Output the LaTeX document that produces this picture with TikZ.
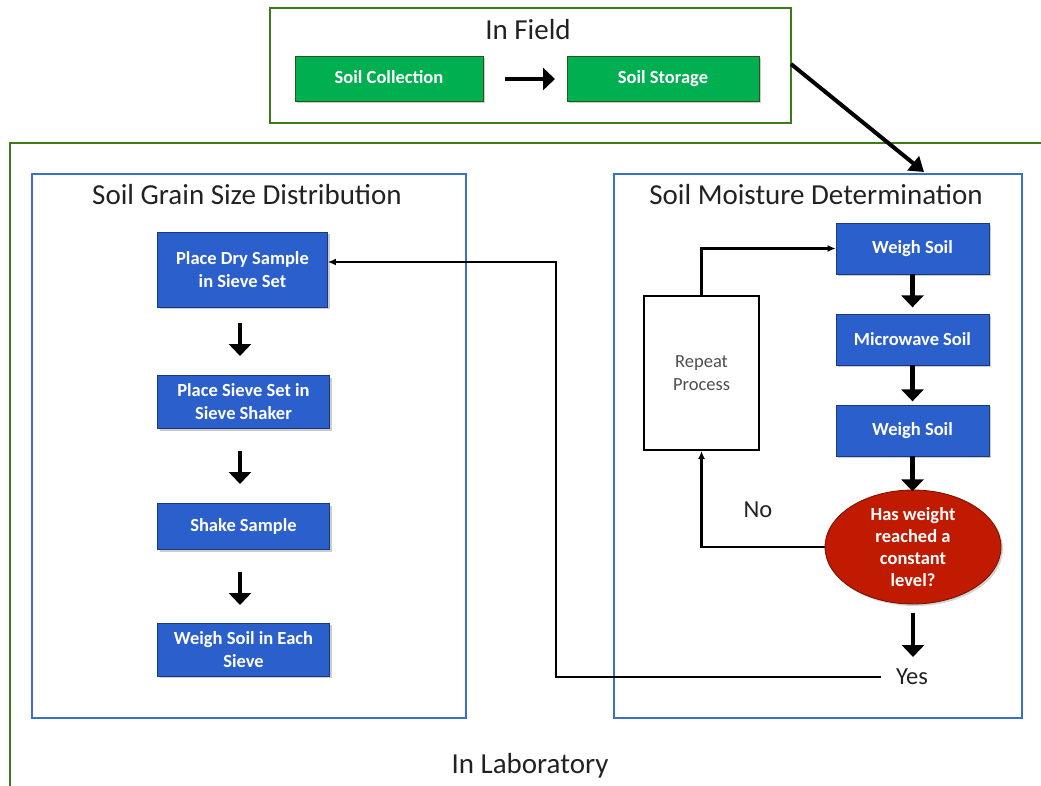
\documentclass[tikz,border=0pt]{standalone}
\usepackage{fontspec}
\setmainfont{Carlito}
\usetikzlibrary{shadows,arrows.meta,shapes.geometric}
\definecolor{fgreen}{HTML}{3C7A1A}
\definecolor{bgreen}{HTML}{00B050}
\definecolor{bblue}{HTML}{2B5FCB}
\definecolor{lblue}{HTML}{3A6FD0}
\definecolor{dred}{HTML}{C01A00}
\definecolor{tgray}{HTML}{222222}
\tikzset{
  greenbox/.style={draw=fgreen!70!black, line width=0.7pt, fill=bgreen, text=white, font=\fontsize{18.5}{23}\selectfont\bfseries, text height=13pt, text depth=3pt, drop shadow={shadow xshift=2pt, shadow yshift=-2pt, opacity=0.4}, inner sep=0pt},
  bluebox/.style={draw=bblue!60!black, line width=0.7pt, fill=bblue, text=white, font=\fontsize{18.5}{23}\selectfont\bfseries, align=center, drop shadow={shadow xshift=2pt, shadow yshift=-2pt, opacity=0.4}, inner sep=0pt},
  frame/.style={draw=fgreen, line width=2.8pt},
  bframe/.style={draw=lblue, line width=2.8pt},
  title/.style={font=\fontsize{29}{31}\selectfont, text=tgray},
  lbl/.style={font=\fontsize{24.5}{26}\selectfont, text=tgray},
  thickarr/.style={line width=4.5pt, -{Triangle[length=12pt,width=22pt]}},
  thinarr/.style={line width=2.2pt, -{Latex[length=8pt,width=7pt]}},
}
\begin{document}
\begin{tikzpicture}[x=1pt,y=-1pt]
\useasboundingbox (0,0) rectangle (1041,786);
% In Field
\draw[frame] (270,8) rectangle (791,123);
\node[title] (tfield) at (528,30) {In Field};
\node[greenbox, minimum width=188pt, minimum height=45pt] (coll) at (389,79) {Soil Collection};
\node[greenbox, minimum width=192pt, minimum height=45pt] (stor) at (663,79) {Soil Storage};
\draw[thickarr] (505,79) -- (555,79);
% In Laboratory
\draw[frame] (10,786) -- (10,143) -- (1041,143);
\node[title] (tlab) at (530,766) {In Laboratory};
% left box
\draw[bframe] (32,174) rectangle (466,718);
\node[title] (tgrain) at (247,195) {Soil Grain Size Distribution};
\node[bluebox, minimum width=170pt, minimum height=75pt] (p1) at (242.5,269.5) {Place Dry Sample\\in Sieve Set};
\node[bluebox, minimum width=172pt, minimum height=53pt] (p2) at (243.5,402) {Place Sieve Set in\\Sieve Shaker};
\node[bluebox, minimum width=172pt, minimum height=46pt] (p3) at (243.5,526.5) {Shake Sample};
\node[bluebox, minimum width=172pt, minimum height=53pt] (p4) at (243.5,649.5) {Weigh Soil in Each\\Sieve};
\draw[thickarr, line width=4pt] (240,323) -- (240,356);
\draw[thickarr, line width=4pt] (240,451) -- (240,484);
\draw[thickarr, line width=4pt] (240,572) -- (240,605);
% right box
\draw[bframe] (614,174) rectangle (1022,718);
\node[title] (tmoist) at (816,195) {Soil Moisture Determination};
\node[bluebox, minimum width=153pt, minimum height=51pt] (w1) at (912.5,248.5) {Weigh Soil};
\node[bluebox, minimum width=153pt, minimum height=51pt] (mw) at (912.5,339.5) {Microwave Soil};
\node[bluebox, minimum width=153pt, minimum height=51pt] (w2) at (912.5,430.5) {Weigh Soil};
\node[ellipse, draw=dred!60!black, line width=0.8pt, fill=dred, text=white, minimum width=176pt, minimum height=114pt, inner sep=0pt, align=center, font=\fontsize{18.5}{22}\selectfont\bfseries, drop shadow={shadow xshift=2pt, shadow yshift=-2pt, opacity=0.35}] (q) at (913,547) {Has weight\\reached a\\constant\\level?};
\node[draw=black, line width=2pt, fill=white, minimum width=115pt, minimum height=154pt, inner sep=0pt, align=center, text=tgray!80, font=\fontsize{18.5}{23}\selectfont] (rep) at (701.5,373) {Repeat\\Process};
\draw[thickarr] (w1.south) -- ++(0,33);
\draw[thickarr] (mw.south) -- ++(0,36);
\draw[thickarr] (w2.south) -- ++(0,35);
\node[lbl] (yes) at (912,677) {Yes};
\coordinate (qb) at (913,613);
\draw[thickarr] (qb) -- (913,657);
\node[lbl] (no) at (758,510) {No};
\draw[thinarr] (rep.north) |- (w1.west);
\draw[thinarr] (q.west) -| (rep.south);
\coordinate (corner) at (556,262);
\draw[thinarr] (yes.west) ++(-12,0) -| (corner) -- (p1.east |- corner);
% field to lab arrow
\coordinate (fa) at (791,64);
\draw[line width=4pt, -{Triangle[length=14pt,width=18pt]}] (fa) -- (924,172);
\end{tikzpicture}
\end{document}
